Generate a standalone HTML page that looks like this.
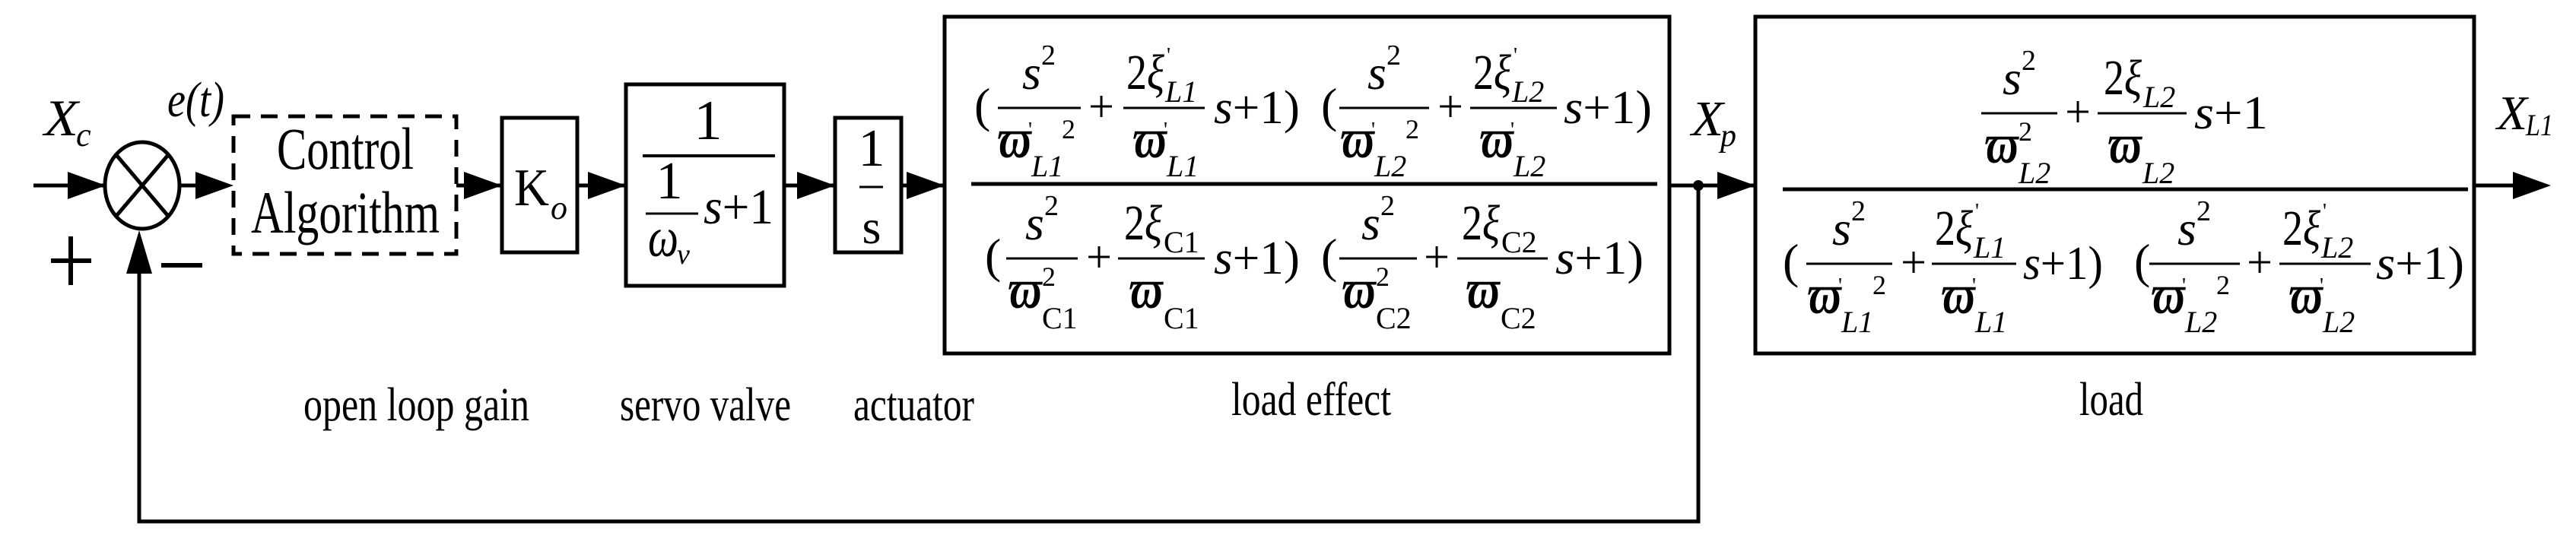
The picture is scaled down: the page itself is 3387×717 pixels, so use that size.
<!DOCTYPE html>
<html><head><meta charset="utf-8"><style>
html,body{margin:0;padding:0;background:#fff;}
svg{display:block;}
text{font-family:"Liberation Serif","DejaVu Serif",serif;fill:#000;}
.i{font-style:italic;}
.w{font-style:italic;font-weight:bold;}
</style></head><body>
<svg width="3387" height="717" viewBox="0 0 3387 717" xmlns="http://www.w3.org/2000/svg">
<g stroke="#000" stroke-width="5" fill="none">
<line x1="44" y1="244" x2="138" y2="244"/>
<ellipse cx="187" cy="244" rx="49" ry="57"/>
<line x1="153" y1="204" x2="221" y2="284"/>
<line x1="221" y1="204" x2="153" y2="284"/>
<line x1="236" y1="244" x2="300" y2="244"/>
<rect x="307" y="153" width="293" height="181" stroke-dasharray="22,14"/>
<line x1="600" y1="244" x2="660" y2="244"/>
<rect x="660" y="155" width="99" height="177"/>
<line x1="759" y1="244" x2="823" y2="244"/>
<rect x="823" y="111" width="208" height="265"/>
<line x1="1031" y1="244" x2="1098" y2="244"/>
<rect x="1098" y="155" width="87" height="177"/>
<line x1="1185" y1="244" x2="1242" y2="244"/>
<rect x="1242" y="22" width="953" height="443"/>
<line x1="2195" y1="244" x2="2308" y2="244"/>
<rect x="2308" y="22" width="945" height="443"/>
<line x1="3253" y1="244" x2="3320" y2="244"/>
<polyline points="2233,244 2233,686 183,686 183,340"/>
<line x1="67" y1="343" x2="120" y2="343" stroke-width="6"/>
<line x1="93" y1="311" x2="93" y2="375" stroke-width="6"/>
<line x1="212" y1="349" x2="266" y2="349" stroke-width="6"/>
<line x1="845" y1="205" x2="1019" y2="205" stroke-width="4"/>
<line x1="849" y1="281" x2="918" y2="281" stroke-width="3"/>
<line x1="1130" y1="246" x2="1161" y2="246" stroke-width="3"/>
<line x1="1277" y1="242" x2="2179" y2="242"/>
<line x1="2344" y1="249" x2="3245" y2="249"/>
<g stroke-width="3">
<line x1="1312" y1="142" x2="1421" y2="142"/>
<line x1="1477" y1="142" x2="1584" y2="142"/>
<line x1="1761" y1="142" x2="1879" y2="142"/>
<line x1="1933" y1="142" x2="2047" y2="142"/>
<line x1="1323" y1="340" x2="1417" y2="340"/>
<line x1="1470" y1="340" x2="1584" y2="340"/>
<line x1="1761" y1="340" x2="1863" y2="340"/>
<line x1="1916" y1="340" x2="2035" y2="340"/>
<line x1="2605" y1="149" x2="2705" y2="149"/>
<line x1="2758" y1="149" x2="2875" y2="149"/>
<line x1="2375" y1="347" x2="2488" y2="347"/>
<line x1="2540" y1="347" x2="2651" y2="347"/>
<line x1="2826" y1="347" x2="2945" y2="347"/>
<line x1="2997" y1="347" x2="3117" y2="347"/>
</g>
</g>
<g fill="#000">
<polygon points="89,226 139,244 89,262"/>
<polygon points="257,226 307,244 257,262"/>
<polygon points="610,226 660,244 610,262"/>
<polygon points="773,226 823,244 773,262"/>
<polygon points="1048,226 1098,244 1048,262"/>
<polygon points="1192,226 1242,244 1192,262"/>
<polygon points="2258,226 2308,244 2258,262"/>
<polygon points="3304,226 3354,244 3304,262"/>
<polygon points="166,360 183,303 200,360"/>
<circle cx="2233" cy="244" r="7"/>
</g>
<text x="58" y="178" class="i" font-size="68" textLength="45" lengthAdjust="spacingAndGlyphs">X</text><text x="100" y="192" class="i" font-size="44">c</text>
<text x="220" y="153" class="i" font-size="66" textLength="75" lengthAdjust="spacingAndGlyphs">e(t)</text>
<text x="454" y="222" text-anchor="middle" font-size="78" textLength="180" lengthAdjust="spacingAndGlyphs">Control</text>
<text x="454" y="306" text-anchor="middle" font-size="78" textLength="248" lengthAdjust="spacingAndGlyphs">Algorithm</text>
<text x="676" y="270" font-size="70" textLength="46" lengthAdjust="spacingAndGlyphs">K</text><text x="724" y="288" class="i" font-size="44">o</text>
<text x="931" y="183" text-anchor="middle" font-size="74">1</text>
<text x="880" y="261" text-anchor="middle" font-size="70">1</text>
<text x="852" y="337" class="i" font-size="74" textLength="40" lengthAdjust="spacingAndGlyphs">ω</text><text x="890" y="347" class="i" font-size="38">v</text>
<text x="925" y="294" font-size="66" textLength="92" lengthAdjust="spacingAndGlyphs"><tspan class="i">s</tspan>+1</text>
<text x="1146" y="218" text-anchor="middle" font-size="70">1</text>
<text x="1146" y="320" text-anchor="middle" font-size="64">s</text>
<text x="2224" y="178" class="i" font-size="66" textLength="42" lengthAdjust="spacingAndGlyphs">X</text><text x="2262" y="192" class="i" font-size="42">p</text>
<text x="3283" y="170" class="i" font-size="64" textLength="40" lengthAdjust="spacingAndGlyphs">X</text><text x="3321" y="178" class="i" font-size="40" textLength="36" lengthAdjust="spacingAndGlyphs">L1</text>
<text x="399" y="553" font-size="62" textLength="297" lengthAdjust="spacingAndGlyphs">open loop gain</text>
<text x="815" y="553" font-size="62" textLength="225" lengthAdjust="spacingAndGlyphs">servo valve</text>
<text x="1122" y="553" font-size="62" textLength="159" lengthAdjust="spacingAndGlyphs">actuator</text>
<text x="1619" y="546" font-size="62" textLength="210" lengthAdjust="spacingAndGlyphs">load effect</text>
<text x="2734" y="546" font-size="62" textLength="84" lengthAdjust="spacingAndGlyphs">load</text>

<g>
<text x="1281" y="160" font-size="64">(</text>
<text x="1366" y="117" text-anchor="middle" font-size="64"><tspan class="i">s</tspan><tspan font-size="38" dy="-32">2</tspan></text>
<text x="1312" y="207" class="w" font-size="74" textLength="44" lengthAdjust="spacingAndGlyphs">ϖ</text><text x="1352" y="180" font-size="28">'</text><text x="1356" y="232" class="i" font-size="40">L1</text><text x="1396" y="182" font-size="36">2</text>
<text x="1448" y="160" text-anchor="middle" font-size="60">+</text>
<text x="1481" y="117" font-size="66" textLength="50" lengthAdjust="spacingAndGlyphs">2<tspan class="i">ξ</tspan></text><text x="1534" y="82" font-size="28">'</text><text x="1532" y="134" class="i" font-size="40">L1</text>
<text x="1490" y="207" class="w" font-size="74" textLength="44" lengthAdjust="spacingAndGlyphs">ϖ</text><text x="1530" y="180" font-size="28">'</text><text x="1534" y="232" class="i" font-size="40">L1</text>
<text x="1596" y="162" font-size="62" textLength="113" lengthAdjust="spacingAndGlyphs"><tspan class="i">s</tspan>+1)</text>
<text x="1737" y="160" font-size="64">(</text>
<text x="1820" y="117" text-anchor="middle" font-size="64"><tspan class="i">s</tspan><tspan font-size="38" dy="-32">2</tspan></text>
<text x="1763" y="207" class="w" font-size="74" textLength="44" lengthAdjust="spacingAndGlyphs">ϖ</text><text x="1803" y="180" font-size="28">'</text><text x="1807" y="232" class="i" font-size="40">L2</text><text x="1848" y="182" font-size="36">2</text>
<text x="1907" y="160" text-anchor="middle" font-size="60">+</text>
<text x="1937" y="117" font-size="66" textLength="50" lengthAdjust="spacingAndGlyphs">2<tspan class="i">ξ</tspan></text><text x="1990" y="82" font-size="28">'</text><text x="1988" y="134" class="i" font-size="40">L2</text>
<text x="1946" y="207" class="w" font-size="74" textLength="44" lengthAdjust="spacingAndGlyphs">ϖ</text><text x="1986" y="180" font-size="28">'</text><text x="1990" y="232" class="i" font-size="40">L2</text>
<text x="2056" y="162" font-size="62" textLength="116" lengthAdjust="spacingAndGlyphs"><tspan class="i">s</tspan>+1)</text>
</g>
<g>
<text x="1295" y="358" font-size="64">(</text>
<text x="1370" y="315" text-anchor="middle" font-size="64"><tspan class="i">s</tspan><tspan font-size="38" dy="-32">2</tspan></text>
<text x="1326" y="405" class="w" font-size="74" textLength="44" lengthAdjust="spacingAndGlyphs">ϖ</text><text x="1370" y="376" font-size="36">2</text><text x="1370" y="432" font-size="40">C1</text>
<text x="1445" y="358" text-anchor="middle" font-size="60">+</text>
<text x="1478" y="315" font-size="66" textLength="50" lengthAdjust="spacingAndGlyphs">2<tspan class="i">ξ</tspan></text><text x="1530" y="332" font-size="40">C1</text>
<text x="1485" y="405" class="w" font-size="74" textLength="44" lengthAdjust="spacingAndGlyphs">ϖ</text><text x="1530" y="432" font-size="40">C1</text>
<text x="1596" y="360" font-size="62" textLength="113" lengthAdjust="spacingAndGlyphs"><tspan class="i">s</tspan>+1)</text>
<text x="1737" y="358" font-size="64">(</text>
<text x="1812" y="315" text-anchor="middle" font-size="64"><tspan class="i">s</tspan><tspan font-size="38" dy="-32">2</tspan></text>
<text x="1765" y="405" class="w" font-size="74" textLength="44" lengthAdjust="spacingAndGlyphs">ϖ</text><text x="1809" y="376" font-size="36">2</text><text x="1809" y="432" font-size="40">C2</text>
<text x="1889" y="358" text-anchor="middle" font-size="60">+</text>
<text x="1922" y="315" font-size="66" textLength="50" lengthAdjust="spacingAndGlyphs">2<tspan class="i">ξ</tspan></text><text x="1974" y="332" font-size="40">C2</text>
<text x="1928" y="405" class="w" font-size="74" textLength="44" lengthAdjust="spacingAndGlyphs">ϖ</text><text x="1973" y="432" font-size="40">C2</text>
<text x="2045" y="360" font-size="62" textLength="116" lengthAdjust="spacingAndGlyphs"><tspan class="i">s</tspan>+1)</text>
</g>
<g>
<text x="2655" y="124" text-anchor="middle" font-size="64"><tspan class="i">s</tspan><tspan font-size="38" dy="-32">2</tspan></text>
<text x="2610" y="214" class="w" font-size="74" textLength="44" lengthAdjust="spacingAndGlyphs">ϖ</text><text x="2654" y="185" font-size="36">2</text><text x="2654" y="241" class="i" font-size="40">L2</text>
<text x="2732" y="167" text-anchor="middle" font-size="60">+</text>
<text x="2766" y="124" font-size="66" textLength="50" lengthAdjust="spacingAndGlyphs">2<tspan class="i">ξ</tspan></text><text x="2818" y="141" class="i" font-size="40">L2</text>
<text x="2772" y="214" class="w" font-size="74" textLength="44" lengthAdjust="spacingAndGlyphs">ϖ</text><text x="2817" y="241" class="i" font-size="40">L2</text>
<text x="2885" y="169" font-size="62" textLength="97" lengthAdjust="spacingAndGlyphs"><tspan class="i">s</tspan>+1</text>
</g>
<g>
<text x="2344" y="365" font-size="64">(</text>
<text x="2431" y="322" text-anchor="middle" font-size="64"><tspan class="i">s</tspan><tspan font-size="38" dy="-32">2</tspan></text>
<text x="2377" y="412" class="w" font-size="74" textLength="44" lengthAdjust="spacingAndGlyphs">ϖ</text><text x="2417" y="385" font-size="28">'</text><text x="2421" y="437" class="i" font-size="40">L1</text><text x="2462" y="387" font-size="36">2</text>
<text x="2516" y="365" text-anchor="middle" font-size="60">+</text>
<text x="2544" y="322" font-size="66" textLength="50" lengthAdjust="spacingAndGlyphs">2<tspan class="i">ξ</tspan></text><text x="2597" y="287" font-size="28">'</text><text x="2595" y="339" class="i" font-size="40">L1</text>
<text x="2553" y="412" class="w" font-size="74" textLength="44" lengthAdjust="spacingAndGlyphs">ϖ</text><text x="2593" y="385" font-size="28">'</text><text x="2597" y="437" class="i" font-size="40">L1</text>
<text x="2660" y="367" font-size="62" textLength="105" lengthAdjust="spacingAndGlyphs"><tspan class="i">s</tspan>+1)</text>
<text x="2806" y="365" font-size="64">(</text>
<text x="2885" y="322" text-anchor="middle" font-size="64"><tspan class="i">s</tspan><tspan font-size="38" dy="-32">2</tspan></text>
<text x="2829" y="412" class="w" font-size="74" textLength="44" lengthAdjust="spacingAndGlyphs">ϖ</text><text x="2869" y="385" font-size="28">'</text><text x="2873" y="437" class="i" font-size="40">L2</text><text x="2914" y="387" font-size="36">2</text>
<text x="2971" y="365" text-anchor="middle" font-size="60">+</text>
<text x="3001" y="322" font-size="66" textLength="50" lengthAdjust="spacingAndGlyphs">2<tspan class="i">ξ</tspan></text><text x="3054" y="287" font-size="28">'</text><text x="3052" y="339" class="i" font-size="40">L2</text>
<text x="3010" y="412" class="w" font-size="74" textLength="44" lengthAdjust="spacingAndGlyphs">ϖ</text><text x="3050" y="385" font-size="28">'</text><text x="3054" y="437" class="i" font-size="40">L2</text>
<text x="3124" y="367" font-size="62" textLength="116" lengthAdjust="spacingAndGlyphs"><tspan class="i">s</tspan>+1)</text>
</g>
</svg>
</body></html>
